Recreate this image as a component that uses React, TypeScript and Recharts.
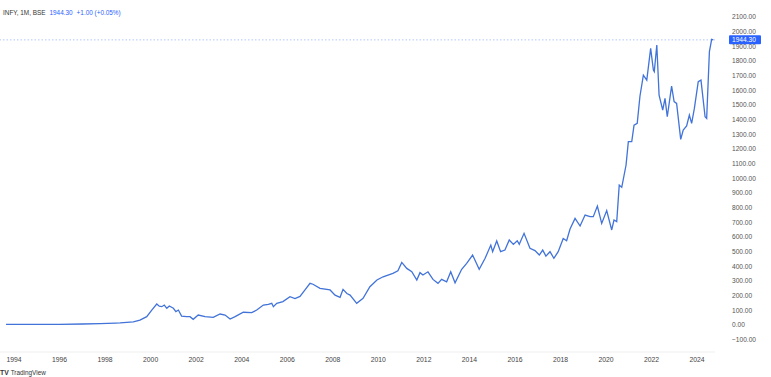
import React from "react";
import { LineChart, Line, XAxis, YAxis, ReferenceLine } from "recharts";

const years: number[] = [
  1993.65, 1995.0, 1996.0, 1997.0, 1997.78, 1998.44, 1998.66, 1999.24, 1999.53, 1999.83,
  2000.05, 2000.27, 2000.38, 2000.49, 2000.6, 2000.71, 2000.82, 2001.0, 2001.11, 2001.22,
  2001.36, 2001.58, 2001.73, 2001.87, 2002.09, 2002.39, 2002.75, 2003.05, 2003.27, 2003.49,
  2003.71, 2004.07, 2004.44, 2004.66, 2004.95, 2005.17, 2005.32, 2005.39, 2005.54, 2005.81,
  2006.12, 2006.34, 2006.56, 2006.78, 2007.0, 2007.13, 2007.44, 2007.88, 2008.1, 2008.32,
  2008.45, 2008.62, 2008.76, 2009.05, 2009.33, 2009.63, 2009.94, 2010.21, 2010.64, 2010.86,
  2011.03, 2011.25, 2011.47, 2011.69, 2011.83, 2011.96, 2012.18, 2012.4, 2012.62, 2012.78,
  2013.0, 2013.18, 2013.37, 2013.66, 2013.88, 2014.14, 2014.43, 2014.69, 2014.94, 2015.02,
  2015.2, 2015.37, 2015.56, 2015.75, 2015.93, 2016.1, 2016.19, 2016.4, 2016.66, 2016.88,
  2017.07, 2017.22, 2017.36, 2017.54, 2017.71, 2017.9, 2018.12, 2018.27, 2018.42, 2018.64,
  2018.86, 2019.08, 2019.3, 2019.44, 2019.62, 2019.81, 2020.03, 2020.25, 2020.35, 2020.47,
  2020.58, 2020.69, 2020.88, 2020.98, 2021.13, 2021.23, 2021.37, 2021.49, 2021.64, 2021.79,
  2021.96, 2022.08, 2022.12, 2022.23, 2022.33, 2022.49, 2022.59, 2022.69, 2022.88, 2022.99,
  2023.1, 2023.28, 2023.39, 2023.54, 2023.66, 2023.76, 2023.88, 2024.05, 2024.17, 2024.35,
  2024.42, 2024.54, 2024.64, 2024.71,
];

const prices: number[] = [
  5, 5, 5, 7, 10, 13, 14, 22, 33, 57,
  102, 143, 128, 125, 136, 114, 130, 114, 91, 102,
  61, 57, 57, 39, 68, 57, 52, 75, 68, 41,
  57, 87, 84, 102, 136, 141, 148, 125, 148, 160,
  193, 180, 195, 240, 284, 278, 250, 239, 204, 189,
  243, 215, 204, 148, 182, 261, 307, 329, 352, 370,
  427, 386, 363, 307, 357, 341, 363, 311, 284, 311,
  295, 363, 288, 380, 420, 477, 380, 455, 545, 500,
  573, 500, 511, 580, 550, 575, 550, 625, 523, 507,
  477, 511, 470, 500, 455, 500, 590, 575, 655, 727,
  675, 750, 739, 739, 811, 693, 780, 648, 716, 705,
  954, 939, 1091, 1250, 1250, 1363, 1375, 1560, 1704, 1670,
  1886, 1738, 1727, 1909, 1568, 1466, 1545, 1420, 1629, 1523,
  1511, 1266, 1329, 1357, 1431, 1375, 1477, 1659, 1670, 1420,
  1409, 1864, 1948, 1944.3,
];

const xTicks: number[] = [1994, 1996, 1998, 2000, 2002, 2004, 2006, 2008, 2010, 2012, 2014, 2016, 2018, 2020, 2022, 2024];
const yTicks: number[] = [-100, 0, 100, 200, 300, 400, 500, 600, 700, 800, 900, 1000, 1100, 1200, 1300, 1400, 1500, 1600, 1700, 1800, 1900, 2000, 2100];

const lastPrice = 1944.3;
const symbolText = "INFY, 1M, BSE";
const priceText = "1944.30";
const changeText = "+1.00 (+0.05%)";

const data = years.map((t, i) => ({ t, p: prices[i] }));

const BLUE = "#2962FF";
const LINE = "#4173d8";
const FONT = "'Liberation Sans', Arial, sans-serif";

const PriceTag = (props: any) => {
  const vb = props.viewBox || {};
  const x = vb.x + vb.width + 14;
  const y = vb.y;
  return (
    <g>
      <rect x={x} y={y - 4.5} width={32} height={9} fill={BLUE} rx={1} />
      <text x={x + 3} y={y + 2.3} fill="#ffffff" fontSize={6.6} fontFamily={FONT}>
        {priceText}
      </text>
    </g>
  );
};

const fmtY = (v: number) => (v < 0 ? "\u2212" + Math.abs(v).toFixed(2) : v.toFixed(2));

export default function App() {
  return (
    <div style={{ position: "absolute", left: 0, top: 0, width: 771, height: 377, background: "#ffffff", overflow: "hidden" }}>
      <LineChart width={771} height={377} data={data} margin={{ top: 5, right: 0, bottom: 0, left: 0 }}>
        <XAxis
          dataKey="t"
          type="number"
          domain={[1993.385, 2024.786]}
          ticks={xTicks}
          allowDataOverflow
          height={25}
          tickLine={false}
          tickSize={0}
          tickMargin={5}
          axisLine={{ stroke: "#efefef" }}
          tick={{ fontSize: 6.8, fill: "#444444", fontFamily: FONT, fontWeight: 500 }}
        />
        <YAxis
          orientation="right"
          width={56}
          domain={[-184, 2182]}
          ticks={yTicks}
          allowDataOverflow
          interval={0}
          tickLine={false}
          tickSize={0}
          tickMargin={17}
          axisLine={false}
          tickFormatter={fmtY}
          tick={{ fontSize: 6.6, fill: "#555555", fontFamily: FONT, textAnchor: "start" }}
        />
        <ReferenceLine y={lastPrice} stroke={BLUE} strokeOpacity={0.45} strokeDasharray="1.5 2" strokeWidth={0.8} label={<PriceTag />} />
        <Line
          type="linear"
          dataKey="p"
          stroke={LINE}
          strokeWidth={1.3}
          dot={false}
          isAnimationActive={false}
        />
      </LineChart>
      <div style={{ position: "absolute", left: 3, top: 9, fontFamily: FONT, fontSize: 6.4, whiteSpace: "nowrap", lineHeight: "8px" }}>
        <span style={{ color: "#333333" }}>{symbolText}</span>
        <span style={{ color: BLUE, marginLeft: 4 }}>{priceText}</span>
        <span style={{ color: BLUE, marginLeft: 4 }}>{changeText}</span>
      </div>
      <div style={{ position: "absolute", left: 0, top: 369, fontFamily: FONT, fontSize: 6.4, whiteSpace: "nowrap", lineHeight: "8px", color: "#333333" }}>
        <span style={{ fontWeight: 900, fontSize: 6.8 }}>TV</span>
        <span style={{ marginLeft: 2 }}>TradingView</span>
      </div>
    </div>
  );
}
